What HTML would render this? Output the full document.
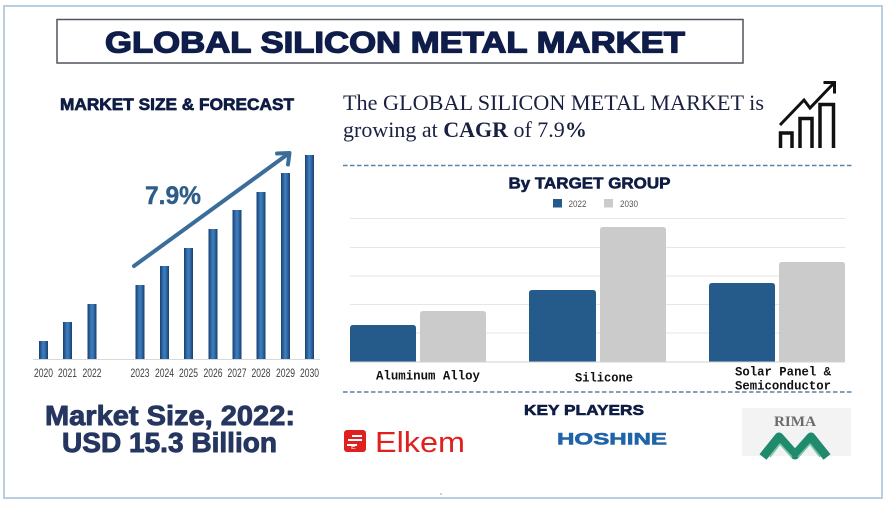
<!DOCTYPE html>
<html><head><meta charset="utf-8"><style>
html,body{margin:0;padding:0;background:#fff;}
svg{display:block;}
</style></head><body>
<svg width="888" height="506" viewBox="0 0 888 506" xmlns="http://www.w3.org/2000/svg">
<defs>
<linearGradient id="bg" x1="0" x2="1" y1="0" y2="0">
<stop offset="0" stop-color="#163f70"/>
<stop offset="0.45" stop-color="#3f7dbd"/>
<stop offset="0.6" stop-color="#3a76b4"/>
<stop offset="1" stop-color="#163f70"/>
</linearGradient>
</defs>
<rect x="0" y="0" width="888" height="506" fill="#fff"/>
<rect x="4" y="6" width="878" height="492" fill="none" stroke="#b9cee1" stroke-width="2"/>
<rect x="57" y="19.5" width="686" height="43.5" fill="none" stroke="#50545e" stroke-width="1.5"/>
<text x="105" y="52.5" font-family="Liberation Sans, sans-serif" font-weight="bold" font-size="29.5" fill="#0f1d4a" stroke="#0f1d4a" stroke-width="1.3" stroke-linejoin="round" textLength="580" lengthAdjust="spacingAndGlyphs">GLOBAL SILICON METAL MARKET</text>

<text x="60" y="110" font-family="Liberation Sans, sans-serif" font-weight="bold" font-size="16.5" fill="#0f1d45" stroke="#0f1d45" stroke-width="0.7" stroke-linejoin="round" textLength="234" lengthAdjust="spacingAndGlyphs">MARKET SIZE &amp; FORECAST</text>

<!-- left bars -->
<line x1="33" y1="359.5" x2="320" y2="359.5" stroke="#d9d9d9" stroke-width="1"/>
<g fill="url(#bg)">
<rect x="39" y="341" width="9" height="18"/>
<rect x="63" y="322" width="9" height="37"/>
<rect x="87.5" y="304" width="9" height="55"/>
<rect x="135.5" y="285" width="9" height="74"/>
<rect x="160" y="266" width="9" height="93"/>
<rect x="184" y="248" width="9" height="111"/>
<rect x="208.5" y="229" width="9" height="130"/>
<rect x="232.5" y="210" width="9" height="149"/>
<rect x="256.5" y="192" width="9" height="167"/>
<rect x="281" y="173" width="9" height="186"/>
<rect x="305" y="155" width="9" height="204"/>
</g>
<g font-family="Liberation Sans, sans-serif" font-size="11.5" fill="#404040" text-anchor="middle">
<text x="43.5" y="377" textLength="19" lengthAdjust="spacingAndGlyphs">2020</text>
<text x="67.5" y="377" textLength="19" lengthAdjust="spacingAndGlyphs">2021</text>
<text x="92" y="377" textLength="19" lengthAdjust="spacingAndGlyphs">2022</text>
<text x="140" y="377" textLength="19" lengthAdjust="spacingAndGlyphs">2023</text>
<text x="164.5" y="377" textLength="19" lengthAdjust="spacingAndGlyphs">2024</text>
<text x="188.5" y="377" textLength="19" lengthAdjust="spacingAndGlyphs">2025</text>
<text x="213" y="377" textLength="19" lengthAdjust="spacingAndGlyphs">2026</text>
<text x="237" y="377" textLength="19" lengthAdjust="spacingAndGlyphs">2027</text>
<text x="261" y="377" textLength="19" lengthAdjust="spacingAndGlyphs">2028</text>
<text x="285.5" y="377" textLength="19" lengthAdjust="spacingAndGlyphs">2029</text>
<text x="309.5" y="377" textLength="19" lengthAdjust="spacingAndGlyphs">2030</text>
</g>
<line x1="134" y1="266" x2="288" y2="154" stroke="#3b6d9b" stroke-width="4" stroke-linecap="round"/>
<polyline points="277,153.5 289.5,153 288,164.5" fill="none" stroke="#3b6d9b" stroke-width="4" stroke-linecap="round" stroke-linejoin="round"/>
<text x="145" y="204" font-family="Liberation Sans, sans-serif" font-weight="bold" font-size="25" fill="#2f5d89" stroke="#2f5d89" stroke-width="0.4" textLength="56" lengthAdjust="spacingAndGlyphs">7.9%</text>

<text x="45" y="425" font-family="Liberation Sans, sans-serif" font-weight="bold" font-size="28" fill="#253660" stroke="#253660" stroke-width="0.9" stroke-linejoin="round" textLength="250" lengthAdjust="spacingAndGlyphs">Market Size, 2022:</text>
<text x="62" y="452" font-family="Liberation Sans, sans-serif" font-weight="bold" font-size="28" fill="#253660" stroke="#253660" stroke-width="0.9" stroke-linejoin="round" textLength="215" lengthAdjust="spacingAndGlyphs">USD 15.3 Billion</text>

<!-- headline -->
<text x="343" y="110" font-family="Liberation Serif, serif" font-size="22" fill="#1a2040" textLength="421" lengthAdjust="spacingAndGlyphs">The GLOBAL SILICON METAL MARKET is</text>
<text x="343" y="137" font-family="Liberation Serif, serif" font-size="22" fill="#1a2040">growing at <tspan font-weight="bold">CAGR</tspan> of 7.9<tspan font-weight="bold">%</tspan></text>

<!-- icon -->
<g fill="none" stroke="#111" stroke-width="3.5" stroke-linejoin="miter">
<path d="M780.5,148 V133 H792 V148"/>
<path d="M800,148 V118.5 H812 V148"/>
<path d="M820,148 V104.5 H833.5 V148"/>
<polyline points="780,125 804,100 810,108 833,84" stroke-width="3"/>
<polyline points="823.5,82.5 834.5,82.5 834.5,93.5" stroke-width="3"/>
</g>

<!-- dashed lines -->
<line x1="343" y1="165.5" x2="852" y2="165.5" stroke="#5b82a6" stroke-width="1.6" stroke-dasharray="4.5 2.5"/>
<line x1="343" y1="392" x2="852" y2="392" stroke="#5b82a6" stroke-width="1.6" stroke-dasharray="4.5 2.5"/>

<text x="508.5" y="188.5" font-family="Liberation Sans, sans-serif" font-weight="bold" font-size="16" fill="#0f1d45" stroke="#0f1d45" stroke-width="0.6" stroke-linejoin="round" textLength="162" lengthAdjust="spacingAndGlyphs">By TARGET GROUP</text>
<rect x="553" y="199" width="9" height="8.5" fill="#255b8b"/>
<text x="568.5" y="207" font-family="Liberation Sans, sans-serif" font-size="9.5" fill="#555" textLength="18" lengthAdjust="spacingAndGlyphs">2022</text>
<rect x="604" y="199" width="9" height="8.5" fill="#cbcbcb"/>
<text x="620" y="207" font-family="Liberation Sans, sans-serif" font-size="9.5" fill="#555" textLength="18" lengthAdjust="spacingAndGlyphs">2030</text>

<g stroke="#e6e6e6" stroke-width="1">
<line x1="350" y1="218.5" x2="845" y2="218.5"/>
<line x1="350" y1="247.5" x2="845" y2="247.5"/>
<line x1="350" y1="276" x2="845" y2="276"/>
<line x1="350" y1="304.5" x2="845" y2="304.5"/>
<line x1="350" y1="333" x2="845" y2="333"/>
</g>
<g fill="#255b8b">
<path d="M350,362 V328 Q350,325 353,325 H413 Q416,325 416,328 V362 Z"/>
<path d="M529,362 V293 Q529,290 532,290 H593 Q596,290 596,293 V362 Z"/>
<path d="M709,362 V286 Q709,283 712,283 H772 Q775,283 775,286 V362 Z"/>
</g>
<g fill="#cbcbcb">
<path d="M420,362 V314 Q420,311 423,311 H483 Q486,311 486,314 V362 Z"/>
<path d="M600,362 V230 Q600,227 603,227 H663 Q666,227 666,230 V362 Z"/>
<path d="M779,362 V265 Q779,262 782,262 H842 Q845,262 845,265 V362 Z"/>
</g>
<line x1="350" y1="362" x2="845" y2="362" stroke="#d0d0d0" stroke-width="1"/>
<g font-family="Liberation Mono, monospace" font-weight="bold" font-size="12.5" fill="#111">
<text x="376" y="379.5" textLength="104" lengthAdjust="spacingAndGlyphs">Aluminum Alloy</text>
<text x="575" y="381.5" textLength="58" lengthAdjust="spacingAndGlyphs">Silicone</text>
<text x="735" y="375.5" textLength="96" lengthAdjust="spacingAndGlyphs">Solar Panel &amp;</text>
<text x="735" y="389.5" textLength="96" lengthAdjust="spacingAndGlyphs">Semiconductor</text>
</g>

<!-- key players -->
<text x="524" y="415" font-family="Liberation Sans, sans-serif" font-weight="bold" font-size="15" fill="#0f1d45" stroke="#0f1d45" stroke-width="0.6" stroke-linejoin="round" textLength="120" lengthAdjust="spacingAndGlyphs">KEY PLAYERS</text>

<!-- Elkem -->
<rect x="344" y="430" width="22" height="22" rx="3" fill="#e0201f"/>
<path d="M348,440 H362 M347,445 H357 M352,436 L362,436" stroke="#fff" stroke-width="2"/>
<text x="351" y="449" font-family="Liberation Sans, sans-serif" font-size="7" fill="#fff">E</text>
<text x="375" y="452" font-family="Liberation Sans, sans-serif" font-size="29" fill="#e0201f" textLength="90" lengthAdjust="spacingAndGlyphs">Elkem</text>

<!-- HOSHINE -->
<text x="557" y="444.5" font-family="Liberation Sans, sans-serif" font-weight="bold" font-size="17" fill="#1f64a9" stroke="#1f64a9" stroke-width="0.6" stroke-linejoin="round" textLength="110" lengthAdjust="spacingAndGlyphs">HOSHINE</text>

<!-- RIMA -->
<rect x="742" y="408" width="109" height="48" fill="#f3f3f3"/>
<text x="774" y="426" font-family="Liberation Serif, serif" font-weight="bold" font-size="14.5" fill="#6b6b6b" textLength="42" lengthAdjust="spacingAndGlyphs">RIMA</text>
<g fill="none" stroke-linejoin="round">
<polyline points="763,457 779,437 795,455 811,437 827,457" stroke="#1f8a6c" stroke-width="9"/>
<polyline points="770,457 780,444 792,457" stroke="#7cc5ab" stroke-width="1.5"/>
<polyline points="798,457 810,444 820,457" stroke="#7cc5ab" stroke-width="1.5"/>
</g>
<circle cx="441" cy="494" r="0.8" fill="#999"/>
</svg>
</body></html>
